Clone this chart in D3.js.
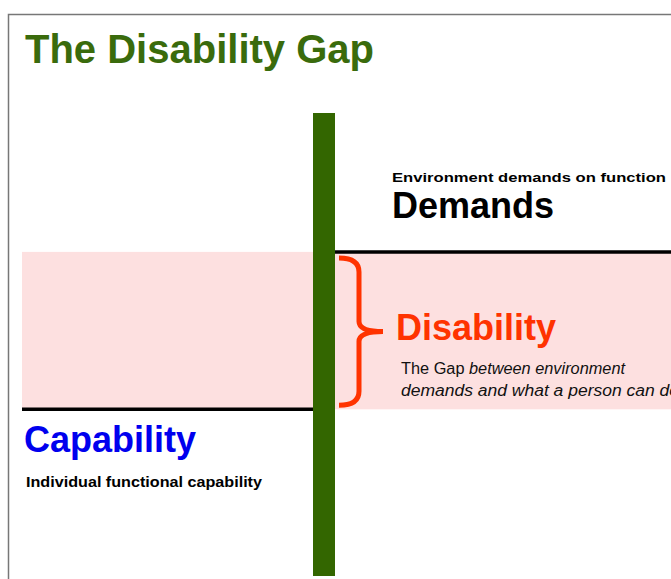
<!DOCTYPE html>
<html>
<head>
<meta charset="utf-8">
<script src="https://cdn.jsdelivr.net/npm/d3@7"></script>
<style>
  body { margin: 0; background: #fff; }
  text { font-family: "Liberation Sans", Arial, sans-serif; }
</style>
</head>
<body>
<div id="chart"></div>
<script>
// levels on a 0-100 scale along the green bar
var levelNames = ['Demands', 'Capability'];
var levelValues = [70, 36];
var levelNotes = ['Environment demands on function', 'Individual functional capability'];
var gapTitle = 'Disability';
var gapNotes = ['The Gap between environment', 'demands and what a person can do'];
var chartTitle = 'The Disability Gap';

var width = 671;
var height = 579;

var svg = d3.select('#chart')
    .append('svg')
    .attr('width', width)
    .attr('height', height);

var y_scale = d3.scaleLinear()
    .domain([0, 100])
    .range([576, 113]);

var barX = 313, barW = 22;
var demY = y_scale(levelValues[0]);
var capY = y_scale(levelValues[1]);

// frame
svg.append('path')
    .attr('d', 'M8.5,' + height + 'V14.5H' + width)
    .attr('fill', 'none')
    .attr('stroke', '#777')
    .attr('stroke-width', 1.5);

// gap band
svg.append('rect')
    .attr('x', 22)
    .attr('y', demY)
    .attr('width', width - 22)
    .attr('height', capY - demY)
    .attr('fill', '#fde0e0');

// level lines
svg.append('line')
    .attr('x1', barX + barW).attr('x2', width)
    .attr('y1', demY).attr('y2', demY)
    .attr('stroke', '#000').attr('stroke-width', 3.5);

svg.append('line')
    .attr('x1', 22).attr('x2', barX)
    .attr('y1', capY).attr('y2', capY)
    .attr('stroke', '#000').attr('stroke-width', 3.5);

// green bar
svg.append('rect')
    .attr('x', barX)
    .attr('y', y_scale(100))
    .attr('width', barW)
    .attr('height', y_scale(0) - y_scale(100))
    .attr('fill', '#336600');

// brace
var braceTop = demY + 6, braceBot = capY - 4, braceMid = (braceTop + braceBot) / 2;
var p = d3.path();
p.moveTo(339, braceTop);
p.quadraticCurveTo(359, braceTop, 359, braceTop + 14);
p.lineTo(359, braceMid - 10);
p.quadraticCurveTo(359, braceMid, 383, braceMid);
p.quadraticCurveTo(359, braceMid, 359, braceMid + 10);
p.lineTo(359, braceBot - 14);
p.quadraticCurveTo(359, braceBot, 339, braceBot);
svg.append('path')
    .attr('d', p.toString())
    .attr('fill', 'none')
    .attr('stroke', '#ff3300')
    .attr('stroke-width', 5);

// title
svg.append('text')
    .attr('x', 25).attr('y', 63)
    .attr('font-size', 40)
    .attr('font-weight', 'bold')
    .attr('fill', '#3a6b0c')
    .text(chartTitle);

// demands labels
svg.append('text')
    .attr('x', 392).attr('y', 182)
    .attr('font-size', 13)
    .attr('font-weight', 'bold')
    .attr('textLength', 274)
    .attr('lengthAdjust', 'spacingAndGlyphs')
    .text(levelNotes[0]);

svg.append('text')
    .attr('x', 392).attr('y', 218)
    .attr('font-size', 36)
    .attr('font-weight', 'bold')
    .attr('fill', '#000')
    .text(levelNames[0]);

// capability labels
svg.append('text')
    .attr('x', 24).attr('y', 452)
    .attr('font-size', 36)
    .attr('font-weight', 'bold')
    .attr('fill', '#0000ee')
    .text(levelNames[1]);

svg.append('text')
    .attr('x', 26).attr('y', 487)
    .attr('font-size', 14)
    .attr('font-weight', 'bold')
    .attr('textLength', 236)
    .attr('lengthAdjust', 'spacingAndGlyphs')
    .text(levelNotes[1]);

// gap labels
svg.append('text')
    .attr('x', 396).attr('y', 340)
    .attr('font-size', 36)
    .attr('fill', '#ff3300')
    .attr('font-weight', 'bold')
    .text(gapTitle);

var note1 = svg.append('text')
    .attr('x', 401).attr('y', 374)
    .attr('font-size', 16)
    .attr('fill', '#111')
    .attr('textLength', 224)
    .attr('lengthAdjust', 'spacingAndGlyphs');
note1.append('tspan').text('The Gap ');
note1.append('tspan').attr('font-style', 'italic').text(gapNotes[0].replace('The Gap ', ''));

svg.append('text')
    .attr('x', 401).attr('y', 396)
    .attr('font-size', 16)
    .attr('font-style', 'italic')
    .attr('fill', '#111')
    .attr('textLength', 278)
    .attr('lengthAdjust', 'spacingAndGlyphs')
    .text(gapNotes[1]);
</script>
</body>
</html>
